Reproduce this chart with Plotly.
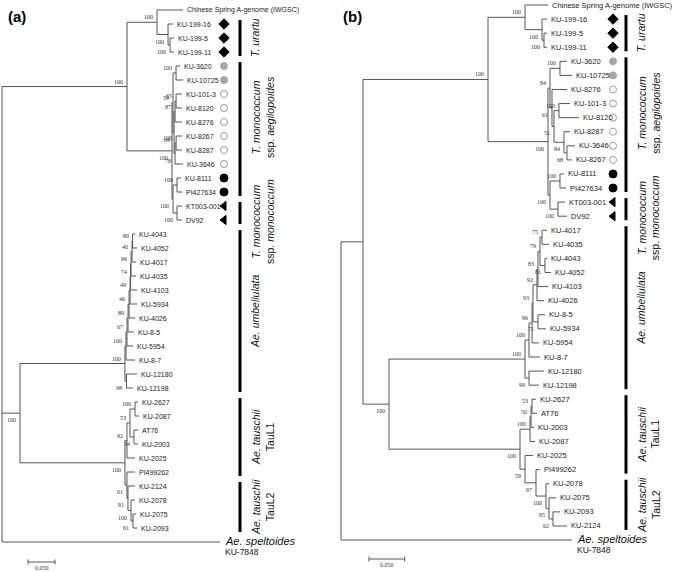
import plotly.graph_objects as go

W, H = 685, 572

# ======================= DATA =======================
# Newick clades, branch lengths in substitutions/site, bootstrap values as node labels
# ---- panel (a)
urartu_a = "('KU-199-16':0.0093,('KU-199-5':0.0074,'KU-199-11':0.0074)100:0.0037)100:0.0204"
csu_a = "('Chinese Spring A-genome (IWGSC)':0.0481," + urartu_a + ")100:0.0556"
aeg_a = ("(('KU-3620':0.0074,'KU-10725':0.0130)100:0.0056,"
         "((('KU-101-3':0.0111,'KU-8120':0.0111)65:0.0019,'KU-8276':0.0130)87:0.0019,"
         "(('KU-8267':0.0111,'KU-8287':0.0111)100:0.0019,'KU-3646':0.0148)78:0.0019)69:0.0019)59:0.0019")
mono_a = ("(('KU-8111':0.0074,'PI427634':0.0093)100:0.0074,"
          "('KT003-001':0.0093,'DV92':0.0093)100:0.0074)100:0.0019")
A_a = "(" + csu_a + ",(" + aeg_a + "," + mono_a + ")100:0.0833)100:0.2315"
umb_L1 = "('KU-4043':0.0046,'KU-4052':0.0083)80:0.0009"
umb_L2 = "(" + umb_L1 + ",'KU-4017':0.0074)40:0.0019"
umb_L3 = "(" + umb_L2 + ",'KU-4035':0.0093)96:0.0009"
umb_L4 = "(" + umb_L3 + ",'KU-4103':0.0120)74:0.0009"
umb_L5 = "(" + umb_L4 + ",'KU-5934':0.0130)49:0.0019"
umb_L6 = "(" + umb_L5 + ",'KU-4026':0.0111)46:0.0019"
umb_L7 = "(" + umb_L6 + ",'KU-8-5':0.0111)89:0.0019"
umb_L8 = "(" + umb_L7 + ",'KU-5954':0.0111)67:0.0019"
umb_L9 = "(" + umb_L8 + ",'KU-8-7':0.0167)100:0.0019"
umb_a = "(" + umb_L9 + ",('KU-12180':0.0194,'KU-12198':0.0120)98:0.0028)100:0.1944"
tauL1_a = ("((('KU-2627':0.0056,'KU-2087':0.0074)100:0.0093,('AT76':0.0074,'KU-2003':0.0074)34:0.0074)53:0.0056,"
           "'KU-2025':0.0148)92:0.0037")
tauL2_a = ("('PI499262':0.0148,('KU-2124':0.0130,('KU-2078':0.0074,"
           "('KU-2075':0.0056,'KU-2093':0.0074)61:0.0037)100:0.0056)91:0.0019)61:0.0037")
tau_a = "(" + tauL1_a + "," + tauL2_a + ")100:0.1944"
D_a = "(" + umb_a + "," + tau_a + ")100:0.0333"
tree_a = "(" + A_a + "," + D_a + ",'Ae. speltoides':0.4037);"

# ---- panel (b)
urartu_b = "('KU-199-16':0.0070,('KU-199-5':0.0042,'KU-199-11':0.0042)100:0.0028)100:0.0238"
csu_b = "('Chinese Spring A-genome (IWGSC)':0.0322," + urartu_b + ")100:0.0518"
aeg_b = ("(('KU-3620':0.0098,'KU-10725':0.0168)100:0.0140,"
         "('KU-8276':0.0210,(('KU-101-3':0.0154,'KU-8120':0.0280)100:0.0070,"
         "('KU-8287':0.0084,('KU-3646':0.0112,'KU-8267':0.0070)68:0.0042)84:0.0140)51:0.0028)61:0.0028)84:0.0028")
mono_b = ("(('KU-8111':0.0056,'PI427634':0.0084)100:0.0140,"
          "('KT003-001':0.0098,'DV92':0.0126)100:0.0112)100:0.0028")
A_b = "(" + csu_b + ",(" + aeg_b + "," + mono_b + ")100:0.0840)100:0.1751"
umb_La = "('KU-4017':0.0070,'KU-4035':0.0098)75:0.0028"
umb_Lb = "(" + umb_La + ",('KU-4043':0.0028,'KU-4052':0.0084)81:0.0070)79:0.0028"
umb_Lc = "(" + umb_Lb + ",'KU-4103':0.0140)83:0.0014"
umb_Ld = "(" + umb_Lc + ",'KU-4026':0.0098)92:0.0056"
umb_Le = "(" + umb_Ld + ",('KU-8-5':0.0098,'KU-5934':0.0112)71:0.0070)93:0.0014"
umb_Lf = "(" + umb_Le + ",'KU-5954':0.0098)96:0.0042"
umb_Lg = "(" + umb_Lf + ",'KU-8-7':0.0154)100:0.0056"
umb_b = "(" + umb_Lg + ",('KU-12180':0.0210,'KU-12198':0.0140)99:0.0056)100:0.1905"
tauL1_b = "((('KU-2627':0.0056,'AT76':0.0070)53:0.0014,'KU-2003':0.0042)50:0.0014,'KU-2087':0.0070)100:0.0140"
tauL2_b = ("('KU-2025':0.0112,('PI499262':0.0056,('KU-2078':0.0042,('KU-2075':0.0098,"
           "('KU-2093':0.0098,'KU-2124':0.0196)62:0.0056)95:0.0042)100:0.0140)97:0.0154)59:0.0070")
tau_b = "(" + tauL1_b + "," + tauL2_b + ")100:0.1835"
D_b = "(" + umb_b + "," + tau_b + ")100:0.0364"
tree_b = "((" + A_b + "," + D_b + "):0.0308,'Ae. speltoides':0.3235);"

outgroup_code = "KU-7848"
scale_value = 0.05

diamond_leaves = ["KU-199-16", "KU-199-5", "KU-199-11"]
grey_leaves = ["KU-3620", "KU-10725"]
open_leaves = ["KU-101-3", "KU-8120", "KU-8276", "KU-8267", "KU-8287", "KU-3646"]
black_leaves = ["KU-8111", "PI427634"]
triangle_leaves = ["KT003-001", "DV92"]

group_labels = ["<i>T. urartu</i>",
                "<i>T. monococcum</i><br>ssp. <i>aegilopoides</i>",
                "<i>T. monococcum</i><br>ssp. <i>monococcum</i>",
                "<i>Ae. umbellulata</i>",
                "<i>Ae. tauschii</i><br>TauL1",
                "<i>Ae. tauschii</i><br>TauL2"]
group_first_a = ["KU-199-16", "KU-3620", "KT003-001", "KU-4043", "KU-2627", "KU-2124"]
group_last_a = ["KU-199-11", "PI427634", "DV92", "KU-12198", "PI499262", "KU-2093"]
group_first_b = ["KU-199-16", "KU-3620", "KT003-001", "KU-4017", "KU-2627", "KU-2078"]
group_last_b = ["KU-199-11", "PI427634", "DV92", "KU-12198", "PI499262", "KU-2124"]

# ======================= LAYOUT CONSTANTS (pixels) =======================
PANELS = {
    "a": dict(tree=tree_a, xa="x", ya="y", root_px=2, ppu=540, top_px=10, sp=14.0,
              mark_px=224, bar_px=240, leaf_font=7, scale_px=(28, 562), letter_px=(6, 16), letter="(a)",
              gfirst=group_first_a, glast=group_last_a),
    "b": dict(tree=tree_b, xa="x2", ya="y2", root_px=341, ppu=714, top_px=5, sp=14.08,
              mark_px=613, bar_px=626, leaf_font=7.5, scale_px=(369, 559), letter_px=(341, 17), letter="(b)",
              gfirst=group_first_b, glast=group_last_b),
}
GROUP_SHIFT_PX = [0, 12, -9, 0, 0, 0]   # label nudges (screen px, up positive)
LINE_COLOR = "#555555"
SANS = "Liberation Sans, Arial, sans-serif"
SERIF = "Liberation Serif, Times New Roman, serif"


def parse_newick(s):
    s = s.strip().rstrip(";")
    pos = 0

    def node():
        nonlocal pos
        n = {"children": [], "name": "", "len": 0.0}
        if s[pos] == "(":
            pos += 1
            while True:
                n["children"].append(node())
                if s[pos] == ",":
                    pos += 1
                    continue
                if s[pos] == ")":
                    pos += 1
                    break
        if pos < len(s) and s[pos] == "'":
            end = s.index("'", pos + 1)
            n["name"] = s[pos + 1:end]
            pos = end + 1
        else:
            st = pos
            while pos < len(s) and s[pos] not in ":,)":
                pos += 1
            n["name"] = s[st:pos]
        if pos < len(s) and s[pos] == ":":
            pos += 1
            st = pos
            while pos < len(s) and s[pos] not in ",)":
                pos += 1
            n["len"] = float(s[st:pos])
        return n

    return node()


def assign(n, x0, counter):
    n["x"] = x0 + n["len"]
    if n["children"]:
        for c in n["children"]:
            assign(c, n["x"], counter)
        n["y"] = (n["children"][0]["y"] + n["children"][-1]["y"]) / 2
    else:
        n["y"] = counter[0]
        counter[0] += 1


def walk(n, parent=None, first=False):
    yield n, parent, first
    for i, c in enumerate(n["children"]):
        yield from walk(c, n, i == 0)


fig = go.Figure()
annotations = []
shapes = []

for key, cfg in PANELS.items():
    tree = parse_newick(cfg["tree"])
    assign(tree, 0.0, [0])
    xa, ya = cfg["xa"], cfg["ya"]
    sp = cfg["sp"]
    px2x = lambda px, c=cfg: (px - c["root_px"]) / c["ppu"]
    py2y = lambda py, c=cfg: (py - c["top_px"]) / c["sp"]

    xs, ys = [], []
    leaves = {}
    for n, parent, first in walk(tree):
        if n["children"]:
            xs += [n["x"], n["x"], None]
            ys += [n["children"][0]["y"], n["children"][-1]["y"], None]
        if parent is not None:
            xs += [parent["x"], n["x"], None]
            ys += [n["y"], n["y"], None]
        if n["children"] and n["name"] and parent is not None:
            annotations.append(dict(x=n["x"], y=n["y"], xref=xa, yref=ya, text=n["name"],
                                    showarrow=False, xanchor="right", yanchor="middle",
                                    xshift=-2, yshift=5 if first else -7,
                                    font=dict(family=SERIF, size=6, color="#333")))
        if not n["children"]:
            leaves[n["name"]] = n
            if n["name"] == "Ae. speltoides":
                annotations.append(dict(x=n["x"], y=n["y"], xref=xa, yref=ya,
                                        text="<i>Ae. speltoides</i>", showarrow=False,
                                        xanchor="left", yanchor="middle", xshift=3, yshift=1,
                                        font=dict(family=SANS, size=11, color="#111")))
                annotations.append(dict(x=n["x"], y=n["y"], xref=xa, yref=ya,
                                        text=outgroup_code, showarrow=False,
                                        xanchor="left", yanchor="middle", xshift=3, yshift=-10,
                                        font=dict(family=SANS, size=8.5, color="#111")))
            else:
                annotations.append(dict(x=n["x"], y=n["y"], xref=xa, yref=ya, text=n["name"],
                                        showarrow=False, xanchor="left", yanchor="middle", xshift=2,
                                        font=dict(family=SANS, size=cfg["leaf_font"], color="#222")))

    fig.add_trace(go.Scatter(x=xs, y=ys, mode="lines", xaxis=xa, yaxis=ya, hoverinfo="skip",
                             line=dict(color=LINE_COLOR, width=1), showlegend=False))

    # sample markers
    mx = px2x(cfg["mark_px"])
    for names, sym, fill, lc, size in [
        (diamond_leaves, "diamond", "black", "black", 8),
        (grey_leaves, "circle", "#a6a6a6", "#a6a6a6", 7),
        (open_leaves, "circle", "white", "#9a9a9a", 7),
        (black_leaves, "circle", "black", "black", 8),
        (triangle_leaves, "triangle-left", "black", "black", 8),
    ]:
        fig.add_trace(go.Scatter(x=[mx] * len(names), y=[leaves[nm]["y"] for nm in names],
                                 mode="markers", xaxis=xa, yaxis=ya, hoverinfo="skip", showlegend=False,
                                 marker=dict(symbol=sym, size=size, color=fill,
                                             line=dict(color=lc, width=1))))

    # group bars and labels
    for i, lab in enumerate(group_labels):
        y0 = leaves[cfg["gfirst"][i]]["y"] - 4 / sp
        y1 = leaves[cfg["glast"][i]]["y"] + 4 / sp
        shapes.append(dict(type="line", xref="paper", yref=ya,
                           x0=cfg["bar_px"] / W, x1=cfg["bar_px"] / W, y0=y0, y1=y1,
                           line=dict(color="black", width=3)))
        off = 23 if "<br>" in lab else 15
        annotations.append(dict(x=(cfg["bar_px"] + off) / W, y=(y0 + y1) / 2, xref="paper", yref=ya,
                                text=lab, showarrow=False, textangle=-90,
                                xanchor="center", yanchor="middle", yshift=GROUP_SHIFT_PX[i],
                                font=dict(family=SANS, size=10.5, color="#111")))

    # scale bar
    sx, sy = px2x(cfg["scale_px"][0]), py2y(cfg["scale_px"][1])
    tk = 2.5 / sp
    fig.add_trace(go.Scatter(x=[sx, sx + scale_value, None, sx, sx, None, sx + scale_value, sx + scale_value],
                             y=[sy, sy, None, sy - tk, sy + tk, None, sy - tk, sy + tk],
                             mode="lines", xaxis=xa, yaxis=ya, hoverinfo="skip", showlegend=False,
                             line=dict(color="#555", width=1)))
    annotations.append(dict(x=sx + scale_value / 2, y=sy, xref=xa, yref=ya, text="%.3f" % scale_value,
                            showarrow=False, yshift=-6, font=dict(family=SERIF, size=6, color="#333")))

    # panel letter
    annotations.append(dict(x=cfg["letter_px"][0] / W, y=1 - cfg["letter_px"][1] / H, xref="paper",
                            yref="paper", text="<b>%s</b>" % cfg["letter"], showarrow=False,
                            xanchor="left", yanchor="middle",
                            font=dict(family=SANS, size=15, color="black")))

ax = dict(visible=False, showgrid=False, zeroline=False, domain=[0, 1])
ca, cb = PANELS["a"], PANELS["b"]
fig.update_layout(
    width=W, height=H, margin=dict(l=0, r=0, t=0, b=0),
    paper_bgcolor="white", plot_bgcolor="white",
    xaxis=dict(ax, range=[-ca["root_px"] / ca["ppu"], (W - ca["root_px"]) / ca["ppu"]]),
    yaxis=dict(ax, range=[(H - ca["top_px"]) / ca["sp"], -ca["top_px"] / ca["sp"]]),
    xaxis2=dict(ax, overlaying="x", range=[-cb["root_px"] / cb["ppu"], (W - cb["root_px"]) / cb["ppu"]]),
    yaxis2=dict(ax, overlaying="y", range=[(H - cb["top_px"]) / cb["sp"], -cb["top_px"] / cb["sp"]]),
    annotations=annotations, shapes=shapes, showlegend=False,
)

fig.write_html("out.html", config={"displayModeBar": False},
               post_script="document.body.style.margin='0px';")
